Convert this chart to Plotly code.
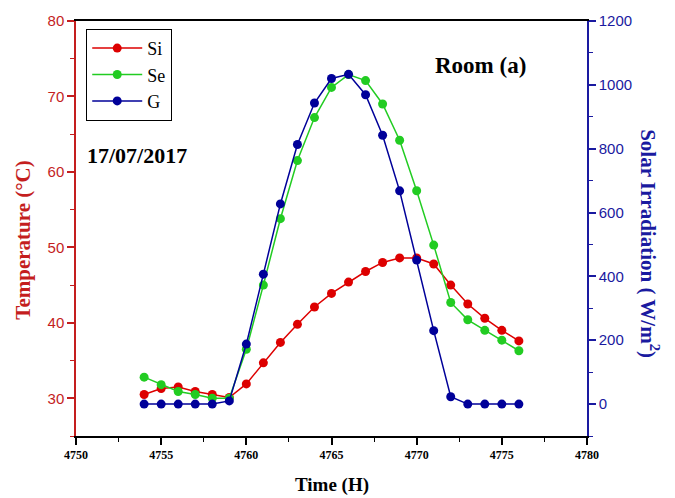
import plotly.graph_objects as go

time_h = [4754, 4755, 4756, 4757, 4758, 4759, 4760, 4761, 4762, 4763, 4764,
          4765, 4766, 4767, 4768, 4769, 4770, 4771, 4772, 4773, 4774, 4775, 4776]
si_temp = [30.5, 31.3, 31.5, 30.9, 30.5, 30.1, 31.9, 34.7, 37.4, 39.8, 42.1,
           43.9, 45.4, 46.8, 48.0, 48.6, 48.6, 47.8, 45.0, 42.5, 40.6, 39.0, 37.6]
se_temp = [32.8, 31.8, 30.9, 30.5, 30.0, 30.0, 36.5, 45.0, 53.8, 61.5, 67.2,
           71.2, 72.9, 72.1, 69.0, 64.2, 57.5, 50.3, 42.7, 40.4, 39.0, 37.7, 36.3]
g_irr = [0, 0, 0, 0, 0, 10, 188, 407, 627, 813, 943,
         1020, 1033, 969, 842, 668, 451, 230, 23, 0, 0, 0, 0]

RED = "#dd0000"
GREEN = "#22cc22"
BLUE = "#000099"
AX_RED = "#c41e1e"
AX_BLUE = "#1a1aa0"
SERIF = "Liberation Serif"
SANS = "Liberation Sans"

fig = go.Figure()
fig.add_trace(go.Scatter(x=time_h, y=si_temp, name="Si", mode="lines+markers",
                         line=dict(color=RED, width=1.5),
                         marker=dict(color=RED, size=9), yaxis="y"))
fig.add_trace(go.Scatter(x=time_h, y=se_temp, name="Se", mode="lines+markers",
                         line=dict(color=GREEN, width=1.5),
                         marker=dict(color=GREEN, size=9), yaxis="y"))
fig.add_trace(go.Scatter(x=time_h, y=g_irr, name="G", mode="lines+markers",
                         line=dict(color=BLUE, width=1.5),
                         marker=dict(color=BLUE, size=9), yaxis="y2"))


def ann(text, x, y, size, color, angle=0):
    return dict(text=text, x=x, y=y, xref="paper", yref="paper",
                xanchor="center", yanchor="middle", textangle=angle,
                showarrow=False,
                font=dict(family=SERIF, size=size, color=color, weight="bold"))


fig.update_layout(
    width=675, height=498,
    margin=dict(l=75.5, r=88, t=17, b=62.3),
    paper_bgcolor="white", plot_bgcolor="white",
    showlegend=True,
    legend=dict(x=0.02, y=0.981, xanchor="left", yanchor="top",
                bordercolor="black", borderwidth=1, bgcolor="white",
                font=dict(family=SERIF, size=18, color="black"),
                itemwidth=50, tracegroupgap=0),
    xaxis=dict(range=[4750, 4780], dtick=5, tick0=4750,
               showgrid=False, zeroline=False,
               showline=True, linecolor="black", linewidth=1.5, mirror=True,
               ticks="outside", ticklen=7, tickwidth=1.5, tickcolor="black",
               tickfont=dict(family=SERIF, size=12, color="black", weight="bold"),
               minor=dict(dtick=2.5, ticks="outside", ticklen=4, tickcolor="black", tickwidth=1.2)),
    yaxis=dict(range=[25, 80], dtick=10, tick0=0,
               showgrid=False, zeroline=False,
               showline=True, linecolor=AX_RED, linewidth=1.5,
               ticks="outside", ticklen=7, tickwidth=1.5, tickcolor=AX_RED,
               tickfont=dict(family=SANS, size=15, color=AX_RED),
               minor=dict(dtick=5, ticks="outside", ticklen=4, tickcolor=AX_RED, tickwidth=1.2)),
    yaxis2=dict(range=[-100, 1200], dtick=200, tick0=0, overlaying="y", side="right",
                showgrid=False, zeroline=False,
                showline=True, linecolor=AX_BLUE, linewidth=1.5,
                ticks="outside", ticklen=7, tickwidth=1.5, tickcolor=AX_BLUE,
                tickfont=dict(family=SANS, size=15, color=AX_BLUE),
                minor=dict(dtick=100, ticks="outside", ticklen=4, tickcolor=AX_BLUE, tickwidth=1.2)),
    annotations=[
        ann("Temperature (°C)", -0.1026, 0.472, 21, AX_RED, -90),
        ann("Solar Irradiation ( W/m<sup>2</sup>)", 1.123, 0.4626, 21, AX_BLUE, 90),
        ann("Time (H)", 0.5005, -0.1177, 19, "black"),
        ann("17/07/2017", 0.119, 0.675, 22, "black"),
        ann("Room (a)", 0.791, 0.8925, 23, "black"),
    ],
)

fig.write_html("out.html")
